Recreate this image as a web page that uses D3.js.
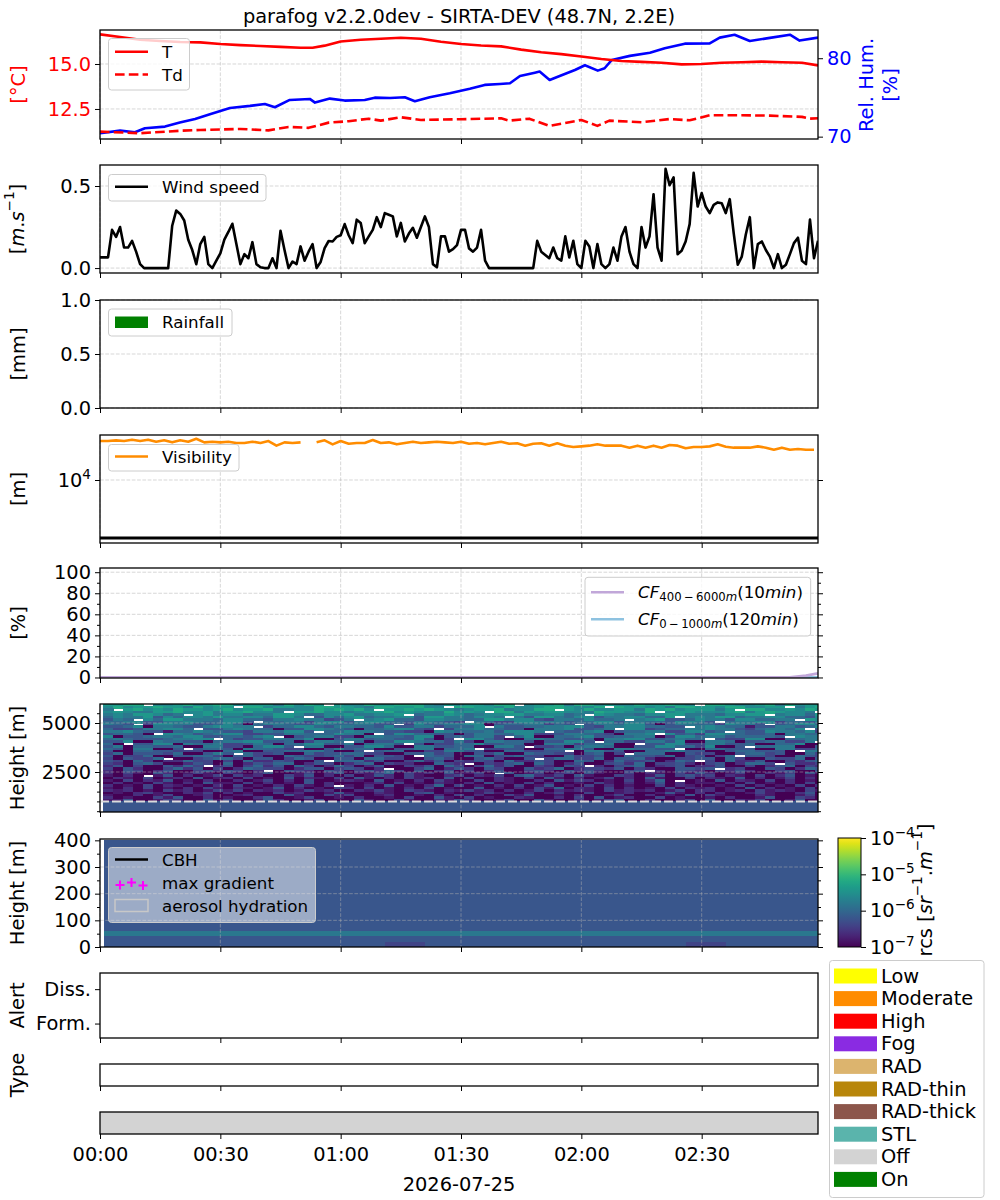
<!DOCTYPE html>
<html>
<head>
<meta charset="utf-8">
<script src="https://cdn.jsdelivr.net/npm/d3@7"></script>
<style>
body { margin: 0; background: #fff; }
svg { font-family: "DejaVu Sans", sans-serif; }
</style>
</head>
<body>
<div id="chart"></div>
<script>
"use strict"

/* figure size and axes columns (px) */
let svgWidth = 1000;
let svgHeight = 1200;
let left = 100;
let right = 818;
let tickFont = 19.4;
let legendFont = 16.7;

/* time runs in minutes after 2026-07-25 00:00 UTC */
let day0 = Date.UTC(2026, 6, 25);
let toDate = function (m) { return new Date(day0 + m * 60000); };
let timeEnd = 179;

/* ---------------- data ---------------- */

// temperature [min, °C]
let tempData = [[0,16.65],[5,16.5],[10,16.35],[15,16.28],[20,16.22],[25,16.2],[30,16.11],[35,16.05],
  [40,16.0],[45,15.95],[50,15.9],[53,15.9],[56,16.02],[60,16.25],[65,16.35],[70,16.4],[75,16.46],
  [80,16.4],[85,16.24],[90,16.11],[95,16.03],[100,15.98],[105,15.8],[110,15.65],[115,15.55],
  [120,15.42],[125,15.28],[130,15.17],[135,15.12],[140,15.07],[145,14.98],[150,15.0],[155,15.07],
  [160,15.1],[165,15.13],[170,15.1],[175,15.07],[179,14.92]];

// dew point [min, °C]
let dewData = [[0,11.24],[10,11.15],[20,11.29],[25,11.33],[35,11.39],[42,11.31],[47,11.5],[52,11.45],
  [57,11.74],[62,11.82],[67,11.96],[70,11.85],[75,12.04],[80,11.89],[90,11.93],[100,11.98],[102,11.85],
  [107,11.96],[112,11.56],[120,11.89],[124,11.56],[127,11.85],[135,11.76],[142,11.94],[147,11.87],
  [152,12.15],[160,12.15],[167,12.13],[175,12.06],[177,11.96],[179,11.98]];

// relative humidity [min, %]
let rhData = [[0,70.43],[5,70.77],[8.7,70.56],[11.2,71.07],[16.2,71.28],[19.9,71.79],[23.7,72.26],
  [27.4,72.86],[32.4,73.66],[37.4,73.92],[41.1,74.17],[43.6,73.75],[47.3,74.68],[52.3,74.81],
  [53.6,74.34],[57.3,74.85],[61,74.6],[66,74.68],[68.5,74.97],[72.3,74.93],[76,75.02],[78.5,74.51],
  [82.2,75.02],[87.2,75.54],[92.2,76.12],[95.9,76.6],[99.7,76.72],[102.2,76.8],[104.7,77.74],
  [108.4,78.16],[109.6,78.3],[112.1,77.23],[114.6,77.74],[118.4,78.5],[120.9,79.1],[124.1,78.42],
  [125.8,78.72],[127.6,79.78],[132.1,80.3],[137.1,80.7],[140.8,81.28],[145.8,81.86],[152,81.9],
  [154.5,82.63],[158.2,83.0],[162,82.2],[167,82.6],[172,83.0],[174.4,82.25],[179,82.63]];

// wind speed, one value per minute from 00:00 [m/s]
let windSpeed = [
  0.065,0.065,0.065,0.233,0.19,0.25,0.125,0.125,0.166,0.10,
  0.024,0,0,0,0,0,0,0,0.258,0.35,
  0.33,0.29,0.173,0.11,0.024,0.146,0.19,0.024,0,0.045,
  0.09,0.173,0.22,0.27,0.146,0.024,0.085,0.06,0.158,0.024,
  0.005,0,0,0.06,0,0.227,0.11,0,0.04,0.024,
  0.132,0.045,0.10,0.146,0,0.037,0.122,0.165,0.162,0.19,
  0.2,0.268,0.2,0.152,0.295,0.275,0.152,0.193,0.233,0.31,
  0.25,0.335,0.325,0.315,0.193,0.275,0.162,0.21,0.245,0.185,
  0.25,0.315,0.25,0.024,0.005,0.193,0.193,0.10,0.115,0.14,
  0.233,0.233,0.12,0.10,0.125,0.233,0.045,0,0,0,
  0,0,0,0,0,0,0,0,0,0.166,
  0.10,0.08,0.06,0.125,0.06,0.045,0.193,0.065,0.166,0.024,
  0,0.166,0.132,0,0.146,0.024,0,0.024,0.125,0.045,
  0.193,0.25,0.10,0.024,0,0.25,0.125,0.193,0.45,0.125,
  0.045,0.605,0.505,0.553,0.085,0.105,0.162,0.268,0.58,0.375,
  0.457,0.375,0.335,0.385,0.4,0.395,0.335,0.42,0.21,0.02,
  0.07,0.205,0.31,0,0.146,0.162,0.11,0.07,0,0.085,
  0,0.02,0.085,0.152,0.185,0.045,0.024,0.295,0.06,0.166];

// rainfall: nothing fell
let rainfall = [];

// visibility, one value every 2 minutes from 00:00 [m] (null = missing)
let visibility = [
  47000,47000,48300,47000,49500,47000,49500,45800,48300,44600,
  48300,45800,51500,44600,45800,44600,45800,43500,43500,45800,
  43500,47000,39100,44600,43500,44600,null,44600,48300,41200,
  47000,42300,43500,43500,48900,43500,44600,41200,43500,45800,
  43500,44600,45800,44600,43500,45800,42300,43500,41200,43500,
  45800,42300,42900,39100,42300,42900,39100,42900,39100,37000,
  38000,39100,41200,39100,39100,39100,36100,39100,36100,39100,
  36100,40100,39100,35200,37000,37000,38000,41200,37500,36100,
  36100,36100,38000,36100,33300,36100,33300,34200,33300,33300];
let visFogThreshold = 1000;

// cloud fraction [min, %]
let cfHigh = [[0,0],[172,0],[176,1.8],[179,4]];
let cfLow = [[0,0],[179,0]];

// backscatter: level codes 0-9 -> log10(rcs); "." = no valid signal
let rcsLevels = [-7.0,-6.8,-6.6,-6.4,-6.2,-6.0,-5.8,-5.6,-5.4,-5.2];
let rcsTopHeight = 6000;   // top of first gate row [m]
let rcsGateStep = 125;     // gate row depth [m]
let rcsStartMin = 0.75;
let rcsStepMin = 2.5;
let rcsRows = [
  "8899.7789789 9788869798.8 779889997687 88799.788969 97877988987. 998778969788",
  "797889886978 8.9978877998 8769988977.9 988797789987 79.988786998 87997788.689",
  "6.8978798878 978896677989 897.88989876 788967799.87 977886989788 868.99778798",
  "787668897786 889776.88977 678897876697 87.996878877 6988779.7887 77896898776.",
  "67688756.786 775668875577 866778.56687 567788667756 .87665778866 657788.67758",
  "576684757768 66775886.475 785667748866 5776.6488657 746677558.67 688566775547",
  "465.75886665 775546676634 6.6785547766 558867743665 7556.6784457 664775566.87",
  "556744667655 774.55663677 467755466543 .65337766645 577466554776 4.5667735546",
  "654.37766445 750566544765 56644.375566 77045566354. 466577404665 537664.45775",
  "445706654467 766.35577546 655474466355 57.644556677 4366775544.6 765514466457",
  "533466775.44 676550447765 405567743.36 675544066674 456.77345566 7664356657.4",
  "667544155765 443665774.55 766544330765 55647776.544 670455663377 45.544766573",
  "45540.776456 773344665557 660.47755440 466557733466 5430667.7453 776544506655",
  "704456657744 55467.045663 306655477045 4663.5700556 744556603775 66455554.766",
  "56544456677. 534466557004 66455447403. 775300665544 506677445655 .43377005566",
  "447006554405 667744503665 .50447765536 306655404477 4.5533664700 66504455336.",
  "50.447706556 334650557744 605664.40335 574455006663 55600.447733 664450055700",
  "460554450066 3305774.6600 447750066445 500664.33405 665004477553 7004.5566004",
  "54066004.455 406554330046 455004466055 6.3344005566 400665544.00 554440066335",
  "400554433300 560044556640 04.455003366 4400553344.0 664400556644 004554440.66",
  "350444350046 4.5334005344 553300445340 043500544330 4503.5550043 300455340053",
  "403350044553 045300543345 3504430.5440 550345330053 340054435034 035.44300543",
  "304335.00345 530440354004 405533004530 0453004.3553 350445200334 405300433504",
  "430530225330 3052243004.5 552400352403 243052243005 40253340254. 305224003245",
  "320453002430 502435502430 245032200532 .03245053024 003425033420 3402553.4223",
  "2403004253.2 403524053025 302400324053 035240032043 .20345023402 240030245032",
  "304200352403 025433024403 4302.0035024 204300423502 332403200443 4.2300430254",
  "204302400342 4302.0432043 034253040240 302400342042 420034.20432 032420034004",
  "203104201310 310240013024 021350312041 130.40130230 410030210314 201300213041",
  "1020.1402013 031200314020 301420310023 021304521304 100320140342 302103024010",
  "021030120401 203010402103 041020312040 300210304102 013020410030 210402013020",
  "103021401020 020130204001 210401020310 030210020413 201030250.01 040210302010",
  "020103102041 103020104020 001203010210 204010302001 031020140201 102030102030",
  "201030210102 03010203102. 102040102503 010203014010 302010030210 010302010302",
  "102030102031 021014020103 203010203010 040102031502 103020103021 201040201030",
  "212010312013 130212013120 021310321021 312020130212 103121201302 201203121031",
  "010231002130 201003120014 100210034010 013100201300 300120014102 020013100240",
  "100201300120 012000410031 300120010203 020031400102 001300201040 310002100130",
  "201003140020 100240013001 020010300410 301002100203 040120030100 102001400320",
  "114001320041 300142001300 041003100214 200130041002 013400200130 400213001400",
  "444444444444 444444444444 444444444444 444444444444 444444444444 444444444444",
  "444444444444 444444444444 444444444444 444444444444 444444444444 444444444444",
  "444444444444 444444444444 444444444444 444444444444 444444444444 444444444444",
  "444444444444 444444444444 444444444444 444444444444 444444444444 444444444444",
  "444444444444 444444444444 444444444444 444444444444 444444444444 444444444444"];
let fogLayerTop = [1000];

// low-level backscatter (0-400 m), same level codes, 20 m rows, 5 min columns
let lowTopHeight = 400;
let lowGateStep = 20;
let lowStartMin = 1;
let lowStepMin = 5;
let lowRows = [
  "444444444444 444444444444 444444444444",
  "444444444444 444444444444 444444444444",
  "444444444444 444444444444 444444444444",
  "444444444444 444444444444 444444444444",
  "444444444444 444444444444 444444444444",
  "444444444444 444444444444 444444444444",
  "444444444444 444444444444 444444444444",
  "444444444444 444444444444 444444444444",
  "444444444444 444444444444 444444444444",
  "444444444444 444444444444 444444444444",
  "444444444444 444444444444 444444444444",
  "444444444444 444444444444 444444444444",
  "444444444444 444444444444 444444444444",
  "444444444444 444444444444 444444444444",
  "444444444444 444444444444 444444444444",
  "444444444444 444444444444 444444444444",
  "444444444444 444444444444 444444444444",
  "666666666666 666666666666 666666666666",
  "444444444444 444444444444 444444444444",
  "444444444444 443344444444 444443344444"];

// instrument status segments
let statusSegments = [{ start: 0, end: 179, state: "Off" }];

// categories of the right-hand legend
let categoryNames = ["Low", "Moderate", "High", "Fog", "RAD", "RAD-thin", "RAD-thick", "STL", "Off", "On"];
let categoryColors = ["#ffff00", "#ff8c00", "#ff0000", "#8a2be2", "#dcb46e", "#b8860b", "#8c564b", "#5ab4ac", "#d3d3d3", "#008000"];

// tick values
let tempTicks = [12.5, 15.0];
let rhTicks = [70, 80];
let windTicks = [0.0, 0.5];
let rainTicks = [0.0, 0.5, 1.0];
let visTicks = [1e4];
let cfTicks = [0, 20, 40, 60, 80, 100];
let cfMinorTicks = [10, 30, 50, 70, 90];
let rcsTicks = [2500, 5000];
let rcsMinorTicks = [500, 1000, 1500, 2000, 3000, 3500, 4000, 4500, 5500];
let lowTicks = [0, 100, 200, 300, 400];
let lowMinorTicks = [50, 150, 250, 350];
let alertTicks = [0, 1];
let alertLabels = ["Form.", "Diss."];
let cbarTicks = [1e-7, 1e-6, 1e-5, 1e-4];
let xTickDates = d3.range(0, 180, 30).map(toDate);

/* ---------------- layout ---------------- */
let panel = {
  temp: [30, 139], wind: [165, 273], rain: [300, 408], vis: [435, 543], cf: [568, 678],
  rcs: [704, 812], low: [839, 947], alert: [973, 1038], type: [1064, 1086], status: [1112, 1134]
};

let svg = d3.select("#chart").append("svg")
  .attr("width", svgWidth)
  .attr("height", svgHeight);

let defs = svg.append("defs");
Object.keys(panel).forEach(function (k) {
  defs.append("clipPath").attr("id", "clip-" + k)
    .append("rect")
    .attr("x", left).attr("y", panel[k][0])
    .attr("width", right - left).attr("height", panel[k][1] - panel[k][0]);
});

let x = d3.scaleUtc().domain([toDate(0), toDate(timeEnd)]).range([left, right]);

let yT = d3.scaleLinear().domain([10.83, 16.89]).range([panel.temp[1], panel.temp[0]]);
let yRH = d3.scaleLinear().domain([69.7, 83.6]).range([panel.temp[1], panel.temp[0]]);
let yWind = d3.scaleLinear().domain([-0.03, 0.628]).range([panel.wind[1], panel.wind[0]]);
let yRain = d3.scaleLinear().domain([0, 1]).range([panel.rain[1], panel.rain[0]]);
let yVis = d3.scaleLog().domain([820, 59700]).range([panel.vis[1], panel.vis[0]]);
let yCF = d3.scaleLinear().domain([-0.5, 104]).range([panel.cf[1], panel.cf[0]]);
let yH = d3.scaleLinear().domain([459, 5970]).range([panel.rcs[1], panel.rcs[0]]);
let yLow = d3.scaleLinear().domain([0, 405]).range([panel.low[1], panel.low[0]]);
let yAlert = d3.scaleLinear().domain([-0.42, 1.47]).range([panel.alert[1], panel.alert[0]]);

let rcsColor = d3.scaleSequentialLog(d3.interpolateViridis).domain([1e-7, 1e-4]);

/* ---------------- helpers ---------------- */
function richText(textSel, parts, size) {
  let shift = 0;
  parts.forEach(function (p) {
    let ts = textSel.append("tspan").text(p.t);
    let target = p.sup ? -0.42 * size : (p.sub ? 0.28 * size : 0);
    if (target !== shift) { ts.attr("dy", target - shift); shift = target; }
    if (p.sup || p.sub) ts.attr("font-size", size * 0.7);
    if (p.it) ts.attr("font-style", "italic");
  });
}

function yLabel(xPos, yPos, parts, color) {
  let t = svg.append("text")
    .attr("transform", "translate(" + xPos + "," + yPos + ") rotate(-90)")
    .attr("text-anchor", "middle")
    .attr("dominant-baseline", "central")
    .attr("font-size", tickFont)
    .attr("fill", color || "#000");
  richText(t, parts, tickFont);
  return t;
}

function styleAxis(g, color) {
  g.attr("font-family", null).attr("font-size", null);
  g.select(".domain").remove();
  g.selectAll(".tick line").attr("stroke", "#000").attr("stroke-width", 1);
  g.selectAll(".tick text").attr("font-size", tickFont).attr("fill", color || "#000");
}

function yAxis(key, scale, side, values, fmt, color, size) {
  let ax = side === "left" ? d3.axisLeft(scale) : d3.axisRight(scale);
  ax.tickValues(values).tickSize(size || 5).tickPadding(4).tickFormat(fmt || "");
  let g = svg.append("g")
    .attr("transform", "translate(" + (side === "left" ? left : right) + ",0)")
    .call(ax);
  styleAxis(g, color);
  return g;
}

function xAxis(key, withLabels) {
  let g = svg.append("g")
    .attr("transform", "translate(0," + panel[key][1] + ")")
    .call(d3.axisBottom(x).tickValues(xTickDates).tickSize(5).tickPadding(8)
      .tickFormat(withLabels ? d3.utcFormat("%H:%M") : ""));
  styleAxis(g);
}

function grid(key, scale, values) {
  let g = svg.append("g")
    .attr("stroke", "#b0b0b0").attr("stroke-opacity", 0.5)
    .attr("stroke-width", 1).attr("stroke-dasharray", "3.7,1.6");
  xTickDates.forEach(function (d) {
    g.append("line").attr("x1", x(d)).attr("x2", x(d))
      .attr("y1", panel[key][0]).attr("y2", panel[key][1]);
  });
  values.forEach(function (v) {
    g.append("line").attr("x1", left).attr("x2", right)
      .attr("y1", scale(v)).attr("y2", scale(v));
  });
}

function frame(key) {
  svg.append("rect")
    .attr("x", left).attr("y", panel[key][0])
    .attr("width", right - left).attr("height", panel[key][1] - panel[key][0])
    .attr("fill", "none").attr("stroke", "#000").attr("stroke-width", 1.3);
}

function legendBox(x0, y0, w, h, alpha) {
  svg.append("rect")
    .attr("x", x0).attr("y", y0).attr("width", w).attr("height", h)
    .attr("rx", 3)
    .attr("fill", "#fff").attr("fill-opacity", alpha)
    .attr("stroke", "#cccccc").attr("stroke-width", 1);
}

function legendLine(x0, yPos, color, dash, label) {
  svg.append("line")
    .attr("x1", x0).attr("x2", x0 + 33).attr("y1", yPos).attr("y2", yPos)
    .attr("stroke", color).attr("stroke-width", 2.6)
    .attr("stroke-dasharray", dash || null);
  if (label) {
    svg.append("text").attr("x", x0 + 47).attr("y", yPos)
      .attr("dominant-baseline", "central")
      .attr("font-size", legendFont).text(label);
  }
}

function seriesLine(key, data, scale, color, width, dash) {
  let line = d3.line()
    .defined(function (d) { return d[1] != null; })
    .x(function (d) { return x(toDate(d[0])); })
    .y(function (d) { return scale(d[1]); });
  svg.append("path")
    .datum(data)
    .attr("clip-path", "url(#clip-" + key + ")")
    .attr("fill", "none")
    .attr("stroke", color)
    .attr("stroke-width", width)
    .attr("stroke-linejoin", "round")
    .attr("stroke-dasharray", dash || null)
    .attr("d", line);
}

function heatmap(key, rows, scale, topH, stepH, startMin, stepMin) {
  let g = svg.append("g")
    .attr("clip-path", "url(#clip-" + key + ")")
    .attr("shape-rendering", "crispEdges");
  rows.forEach(function (s, r) {
    let cells = s.replace(/ /g, "").split("");
    let yTop = scale(topH - r * stepH);
    let yBot = scale(topH - (r + 1) * stepH);
    cells.forEach(function (ch, c) {
      if (ch === ".") return;
      let t0 = startMin + c * stepMin;
      let x0 = x(toDate(t0));
      let x1 = x(toDate(t0 + stepMin));
      g.append("rect")
        .attr("x", x0).attr("y", yTop)
        .attr("width", x1 - x0 + 0.5).attr("height", yBot - yTop + 0.5)
        .attr("fill", rcsColor(Math.pow(10, rcsLevels[+ch])));
    });
  });
}

function powerLabel(textSel, exponent, size) {
  textSel.text(null);
  richText(textSel, [{ t: "10" }, { t: exponent, sup: true }], size);
}

/* ---------------- title ---------------- */
svg.append("text")
  .attr("x", (left + right) / 2).attr("y", 22.5)
  .attr("text-anchor", "middle")
  .attr("font-size", tickFont)
  .text("parafog v2.2.0dev - SIRTA-DEV (48.7N, 2.2E)");

/* ---------------- 1. temperature / humidity ---------------- */
grid("temp", yT, tempTicks);
seriesLine("temp", rhData, yRH, "#0000ff", 2.6);
seriesLine("temp", tempData, yT, "#ff0000", 2.6);
seriesLine("temp", dewData, yT, "#ff0000", 2.6, "9.6,4.2");
yAxis("temp", yT, "left", tempTicks, d3.format(".1f"), "#ff0000");
yAxis("temp", yRH, "right", rhTicks, d3.format("d"), "#0000ff");
xAxis("temp", false);
frame("temp");
legendBox(108.5, 38.5, 81, 51.5, 0.8);
legendLine(115, 51.7, "#ff0000", null, "T");
legendLine(115, 74.5, "#ff0000", "9.6,4.2", "Td");
yLabel(17.5, 84.5, [{ t: "[°C]" }], "#ff0000");
yLabel(866, 85, [{ t: "Rel. Hum." }], "#0000ff");
yLabel(890, 85, [{ t: "[%]" }], "#0000ff");

/* ---------------- 2. wind ---------------- */
grid("wind", yWind, windTicks);
seriesLine("wind", windSpeed.map(function (v, i) { return [i, v]; }), yWind, "#000", 2.6);
yAxis("wind", yWind, "left", windTicks, d3.format(".1f"));
xAxis("wind", false);
frame("wind");
legendBox(108.5, 174.5, 157.5, 26.5, 0.8);
legendLine(115, 186.7, "#000", null, "Wind speed");
yLabel(17, 219, [{ t: "[" }, { t: "m", it: true }, { t: "." }, { t: "s", it: true }, { t: "−1", sup: true }, { t: "]" }]);

/* ---------------- 3. rainfall ---------------- */
grid("rain", yRain, rainTicks);
yAxis("rain", yRain, "left", rainTicks, d3.format(".1f"));
xAxis("rain", false);
frame("rain");
legendBox(108.5, 309, 123.5, 27, 0.8);
svg.append("rect").attr("x", 115).attr("y", 316.5).attr("width", 33).attr("height", 11.5).attr("fill", "#008000");
svg.append("text").attr("x", 162).attr("y", 322.3).attr("dominant-baseline", "central")
  .attr("font-size", legendFont).text("Rainfall");
yLabel(17.5, 354, [{ t: "[mm]" }]);

/* ---------------- 4. visibility ---------------- */
grid("vis", yVis, visTicks);
seriesLine("vis", visibility.map(function (v, i) { return [i * 2, v]; }), yVis, "#ff8c00", 2.6);
svg.append("line")
  .attr("x1", left).attr("x2", right)
  .attr("y1", yVis(visFogThreshold)).attr("y2", yVis(visFogThreshold))
  .attr("stroke", "#000").attr("stroke-width", 3);
let visAx = yAxis("vis", yVis, "left", visTicks, function () { return "x"; });
visAx.selectAll(".tick text").each(function () { powerLabel(d3.select(this), "4", tickFont); });
yAxis("vis", yVis, "right", visTicks);
xAxis("vis", false);
frame("vis");
legendBox(108.5, 444.5, 130.5, 26.5, 0.8);
legendLine(115, 456.5, "#ff8c00", null, "Visibility");
yLabel(17.5, 489, [{ t: "[m]" }]);

/* ---------------- 5. cloud fraction ---------------- */
grid("cf", yCF, cfTicks);
seriesLine("cf", cfLow, yCF, "#8ec2e0", 2.8);
seriesLine("cf", cfHigh, yCF, "#c1a7d9", 2.8);
yAxis("cf", yCF, "left", cfTicks, d3.format("d"));
yAxis("cf", yCF, "left", cfMinorTicks, null, null, 3);
yAxis("cf", yCF, "right", cfTicks);
yAxis("cf", yCF, "right", cfMinorTicks, null, null, 3);
xAxis("cf", false);
frame("cf");
legendBox(585, 577.3, 225.7, 58.7, 0.8);
legendLine(591, 592.3, "#c1a7d9");
legendLine(591, 619.3, "#8ec2e0");
let cfText1 = svg.append("text").attr("x", 638).attr("y", 592.3).attr("dominant-baseline", "central").attr("font-size", legendFont);
richText(cfText1, [{ t: "CF", it: true }, { t: "400\u2009−\u20096000", sub: true }, { t: "m", sub: true, it: true },
  { t: "(10" }, { t: "min", it: true }, { t: ")" }], legendFont);
let cfText2 = svg.append("text").attr("x", 638).attr("y", 619.3).attr("dominant-baseline", "central").attr("font-size", legendFont);
richText(cfText2, [{ t: "CF", it: true }, { t: "0\u2009−\u20091000", sub: true }, { t: "m", sub: true, it: true },
  { t: "(120" }, { t: "min", it: true }, { t: ")" }], legendFont);
yLabel(17.5, 623, [{ t: "[%]" }]);

/* ---------------- 6. backscatter profile ---------------- */
heatmap("rcs", rcsRows, yH, rcsTopHeight, rcsGateStep, rcsStartMin, rcsStepMin);
grid("rcs", yH, rcsTicks);
fogLayerTop.forEach(function (h) {
  svg.append("line")
    .attr("x1", left).attr("x2", right)
    .attr("y1", yH(h)).attr("y2", yH(h))
    .attr("stroke", "#dcdcdc").attr("stroke-width", 2)
    .attr("stroke-dasharray", "9,3");
});
yAxis("rcs", yH, "left", rcsTicks, d3.format("d"));
yAxis("rcs", yH, "left", rcsMinorTicks, null, null, 3);
yAxis("rcs", yH, "right", rcsTicks);
yAxis("rcs", yH, "right", rcsMinorTicks, null, null, 3);
xAxis("rcs", false);
frame("rcs");
yLabel(17, 758, [{ t: "Height [m]" }]);

/* ---------------- 7. low-level backscatter ---------------- */
heatmap("low", lowRows, yLow, lowTopHeight, lowGateStep, lowStartMin, lowStepMin);
grid("low", yLow, [100, 200, 300]);
yAxis("low", yLow, "left", lowTicks, d3.format("d"));
yAxis("low", yLow, "left", lowMinorTicks, null, null, 3);
yAxis("low", yLow, "right", lowTicks);
yAxis("low", yLow, "right", lowMinorTicks, null, null, 3);
xAxis("low", false);
frame("low");
legendBox(108.5, 847.5, 207, 75, 0.5);
legendLine(115, 859.5, "#000", null, "CBH");
[[120, 885], [131.5, 882.5], [143, 885.5]].forEach(function (p) {
  svg.append("path")
    .attr("d", "M" + (p[0] - 4.5) + "," + p[1] + "h9M" + p[0] + "," + (p[1] - 4.5) + "v9")
    .attr("stroke", "#ff00ff").attr("stroke-width", 2);
});
svg.append("text").attr("x", 162).attr("y", 882.8).attr("dominant-baseline", "central")
  .attr("font-size", legendFont).text("max gradient");
svg.append("rect").attr("x", 115).attr("y", 899.5).attr("width", 33).attr("height", 12)
  .attr("fill", "none").attr("stroke", "#c8c8c8").attr("stroke-width", 1.5);
svg.append("text").attr("x", 162).attr("y", 906).attr("dominant-baseline", "central")
  .attr("font-size", legendFont).text("aerosol hydration");
yLabel(17, 893, [{ t: "Height [m]" }]);

/* colour bar */
let cbar = { x: 838, w: 23, top: 838, bottom: 947 };
let grad = defs.append("linearGradient").attr("id", "viridis")
  .attr("x1", 0).attr("y1", 1).attr("x2", 0).attr("y2", 0);
d3.range(0, 1.0001, 0.05).forEach(function (t) {
  grad.append("stop").attr("offset", t).attr("stop-color", d3.interpolateViridis(t));
});
svg.append("rect")
  .attr("x", cbar.x).attr("y", cbar.top).attr("width", cbar.w).attr("height", cbar.bottom - cbar.top)
  .attr("fill", "url(#viridis)").attr("stroke", "#000").attr("stroke-width", 1);
let yCbar = d3.scaleLog().domain([1e-7, 1e-4]).range([cbar.bottom, cbar.top]);
let cbarAx = svg.append("g")
  .attr("transform", "translate(" + (cbar.x + cbar.w) + ",0)")
  .call(d3.axisRight(yCbar).tickValues(cbarTicks).tickSize(5).tickPadding(4).tickFormat(function () { return "x"; }));
styleAxis(cbarAx);
cbarAx.selectAll(".tick text").each(function (d) {
  powerLabel(d3.select(this), "−" + Math.round(-Math.log10(d)), tickFont);
});
yLabel(925, 890, [{ t: "rcs [" }, { t: "sr", it: true }, { t: "−1", sup: true }, { t: "." },
  { t: "m", it: true }, { t: "−1", sup: true }, { t: "]" }]);

/* ---------------- 8. alerts ---------------- */
yAxis("alert", yAlert, "left", alertTicks, function (d) { return alertLabels[d]; });
xAxis("alert", false);
frame("alert");
yLabel(17, 1005.5, [{ t: "Alert" }]);

/* ---------------- 9. fog type ---------------- */
xAxis("type", false);
frame("type");
yLabel(17, 1075, [{ t: "Type" }]);

/* ---------------- 10. status ---------------- */
statusSegments.forEach(function (s) {
  svg.append("rect")
    .attr("x", x(toDate(s.start))).attr("y", panel.status[0])
    .attr("width", x(toDate(s.end)) - x(toDate(s.start)))
    .attr("height", panel.status[1] - panel.status[0])
    .attr("fill", categoryColors[categoryNames.indexOf(s.state)]);
});
xAxis("status", true);
frame("status");
svg.append("text")
  .attr("x", (left + right) / 2).attr("y", 1191)
  .attr("text-anchor", "middle")
  .attr("font-size", tickFont)
  .text("2026-07-25");

/* category legend */
legendBox(829.5, 960.5, 154.5, 237, 0.8);
categoryNames.forEach(function (name, i) {
  let yc = 976 + i * 22.6;
  svg.append("rect")
    .attr("x", 834).attr("y", yc - 7.5).attr("width", 43).attr("height", 15)
    .attr("fill", categoryColors[i]);
  svg.append("text")
    .attr("x", 881).attr("y", yc)
    .attr("dominant-baseline", "central")
    .attr("font-size", tickFont)
    .text(name);
});
</script>
</body>
</html>
